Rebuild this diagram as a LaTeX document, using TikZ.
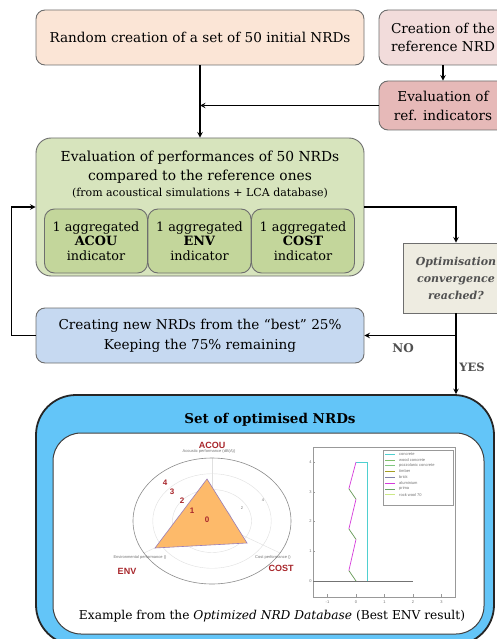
\documentclass[tikz,border=0pt]{standalone}
\usepackage{fontspec}
\setmainfont{DejaVu Serif}
\newfontfamily\chartfont{Liberation Sans}
\usepackage{xcolor}
\usetikzlibrary{calc,arrows,positioning}
\definecolor{mpeach}{HTML}{FBE5D6}
\definecolor{mpink}{HTML}{F2DCDB}
\definecolor{mrose}{HTML}{E6B9B8}
\definecolor{mgreen}{HTML}{D7E4BD}
\definecolor{mgreendark}{HTML}{C3D69B}
\definecolor{mbeige}{HTML}{EEECE1}
\definecolor{mblue}{HTML}{C6D9F1}
\definecolor{msky}{HTML}{63C5F8}
\definecolor{mframe}{HTML}{6E6E6E}
\definecolor{mtext}{HTML}{505050}
\definecolor{mdred}{HTML}{A8262B}
\definecolor{morange}{HTML}{FDBA6A}
\definecolor{mpurple}{HTML}{9A7FB8}
\definecolor{mcyan}{HTML}{4FD0D0}
\definecolor{mlgreen}{HTML}{7FBF6A}
\definecolor{mmag}{HTML}{D63ADB}
\tikzstyle{box}=[rectangle, rounded corners=9pt, draw=mframe, line width=0.9, align=center, inner sep=0pt, font=\fontsize{13.6}{19}\selectfont]
\tikzstyle{ind}=[box, fill=mgreendark, minimum width=103pt, minimum height=64pt, rounded corners=10pt, font=\fontsize{12.8}{14.5}\selectfont]
\tikzstyle{l1}=[line width=1.4, >=stealth]
\tikzstyle{grid}=[draw=black!12, line width=0.4]
\tikzstyle{tiny}=[inner sep=0pt, text=black!55, font=\chartfont\fontsize{4}{4.5}\selectfont]
\tikzstyle{axlab}=[inner sep=0pt, text=mdred, font=\chartfont\bfseries\fontsize{9}{9}\selectfont]
\tikzstyle{num}=[inner sep=0pt, text=mdred, font=\chartfont\bfseries\fontsize{8}{8}\selectfont]

\begin{document}
\begin{tikzpicture}[x=1pt, y=-1pt, node distance=1cm, on grid]
    \useasboundingbox (0,0) rectangle (496,639);

    \node[box, fill=mpeach, minimum width=328pt, minimum height=55pt] (rand) at (200,37.5) {Random creation of a set of 50 initial NRDs};
    \node[box, fill=mpink, minimum width=128pt, minimum height=55pt, font=\fontsize{13.6}{18}\selectfont] (refc) at (443,37.5) {Creation of the\\reference NRD};
    \node[box, fill=mrose, minimum width=128pt, minimum height=49pt] (refe) at (443,105.5) {Evaluation of\\ref. indicators};

    \node[box, fill=mgreen, minimum width=328pt, minimum height=138pt, rounded corners=15pt] (eval) at (200,207) {};
    \node (evalt) at (200,167.5) [align=center, font=\fontsize{13.8}{19}\selectfont] {Evaluation of performances of 50 NRDs\\compared to the reference ones};
    \node (evals) [below = 25.5pt of evalt, font=\fontsize{11}{12}\selectfont] {(from acoustical simulations + LCA database)};
    \coordinate (indc) at (199.5,241);
    \foreach \name/\i in {ACOU/-1,ENV/0,COST/1}{
        \node[ind] (ind\name) at ($(indc)+(\i*103.5,0)$) {1 aggregated\\\textbf{\name}\\indicator};
    }

    \node[box, fill=mbeige, rounded corners=0pt, minimum width=106pt, minimum height=70pt, text=mtext, font=\bfseries\itshape\fontsize{11}{17}\selectfont] (conv) at (456,278) {Optimisation\\convergence\\reached?};

    \node[box, fill=mblue, minimum width=328pt, minimum height=55pt, font=\fontsize{13.6}{20}\selectfont] (new) at (200,335.5) {Creating new NRDs from the “best” 25\%\\Keeping the 75\% remaining};

    \node[rectangle, rounded corners=40pt, draw=black!85, line width=1.8, fill=msky, minimum width=458pt, minimum height=250pt] (set) at (265,520) {};
    \node[rectangle, rounded corners=28pt, draw=black!75, line width=1, fill=white, minimum width=431pt, minimum height=201pt] (ex) at (268.5,533.5) {};
    \node (settitle) at (270,420) [font=\bfseries\fontsize{13.5}{14}\selectfont] {Set of optimised NRDs};
    \node (excap) at (272,616) [font=\fontsize{12.2}{13}\selectfont] {Example from the \textit{Optimized NRD Database} (Best ENV result)};

    % connectors
    \coordinate (join) at (rand.south |- refe.west);
    \coordinate (nojoin) at (conv.south |- new.east);
    \draw[l1, ->] (refc) -- (refe);
    \draw[l1, ->] (rand) -- (eval);
    \draw[l1, ->] (refe) -- (join);
    \draw[l1, ->] (eval.east) -| (conv.north);
    \draw[l1, ->] (conv) -- (conv.south |- set.north);
    \draw[l1, ->] (nojoin) -- (new.east);
    \draw[l1, ->] (new.west) -- ++(-24,0) |- (eval.west);
    \node (no) at (403,348) [text=mtext, font=\bfseries\fontsize{12}{12}\selectfont] {NO};
    \node (yes) at (472,367) [text=mtext, font=\bfseries\fontsize{11.5}{12}\selectfont] {YES};

    % radar chart
    \coordinate (rc) at (212,521);
    \foreach \r in {0.25,0.5,0.75}{
        \draw[grid] (rc) ellipse[x radius=\r*79, y radius=\r*63];
    }
    \draw[grid] (rc) -- ++(0,-63);
    \draw[grid] (rc) -- ++(-68,32);
    \draw[grid] (rc) -- ++(68,32);
    \draw[draw=black!45, line width=0.6] (rc) ellipse[x radius=79, y radius=63];
    \coordinate (pacou) at (207,479); \coordinate (penv) at (155,548); \coordinate (pcost) at (247,543);
    \draw[fill=morange, draw=mpurple, line width=0.6] (pacou) -- (penv) -- (pcost) -- cycle;
    \node[axlab] (lacou) at (212,445) {ACOU};
    \node[axlab] (lenv) at (127,571) {ENV};
    \node[axlab] (lcost) at (281,568) {COST};
    \node[tiny] (tacou) at (209,451.5) {Acoustic performance (dB(A))};
    \node[tiny] (tenv) at (140,557) {Environmental performance ()};
    \node[tiny] (tcost) at (273,557) {Cost performance ()};
    \foreach \v/\px/\py in {0/207/520, 1/192/511, 2/182/501, 3/172/492, 4/165/483}{
        \node[num] (n\v) at (\px,\py) {\v};
    }
    \node[tiny] (g2) at (242,508) {2};
    \node[tiny] (g4) at (263,500) {4};

    % layer chart
    \begin{scope}[shift={(356,581)}, x=28.5pt, y=29.75pt]
        \draw[draw=black!40, line width=0.6] (-1.5,-0.55) rectangle (3.5,4.5);
        \foreach \v in {-1,0,1,2,3}{
            \draw[draw=black!40, line width=0.3] (\v,-0.55) -- (\v,-0.45);
            \node[tiny] (xt\v) at (\v,-0.72) {\v};
        }
        \foreach \v in {0,1,2,3,4}{
            \draw[draw=black!40, line width=0.3] (-1.5,\v) -- (-1.43,\v);
            \node[tiny] (yt\v) at (-1.6,\v) {\v};
        }
        \draw[draw=black!55, line width=0.8] (-1.5,0) -- (2,0);
        \draw[mcyan, line width=0.8] (0,4) -- (0.4,4) -- (0.4,0);
        \foreach \ya/\yb/\yc in {0/0.35/1.4, 1.4/1.75/2.75, 2.75/3.1/4}{
            \draw[mlgreen!80!black, line width=0.7] (0,\ya) -- (-0.25,\yb);
            \draw[mmag, line width=0.7] (-0.25,\yb) -- (0,\yc);
        }
    \end{scope}
    \draw[draw=black!40, line width=0.5, fill=white] (383,450) rectangle (453,505);
    \foreach \i/\txt/\col in {0/concrete/mcyan, 1/wood concrete/mlgreen, 2/pozzolanic concrete/black!45!green!50, 3/timber/olive!80, 4/brick/blue!30!black!50, 5/aluminium/mmag, 6/prima/green!40!black!60, 7/rock wool 70/yellow!60!green!50}{
        \draw[\col, line width=0.6] (385,454+\i*5.8) -- (395,454+\i*5.8);
        \node[tiny, anchor=west] (leg\i) at (399,454+\i*5.8) {\txt};
    }
\end{tikzpicture}
\end{document}
